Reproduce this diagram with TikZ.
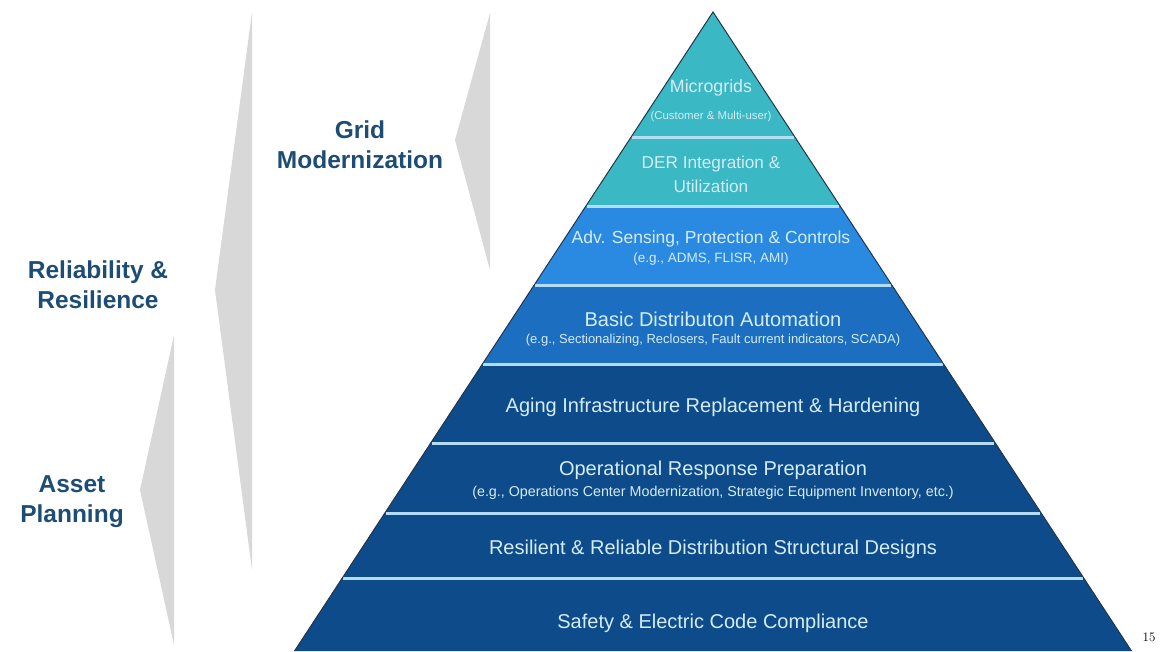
\documentclass[tikz,border=0pt]{standalone}
\usepackage{fontspec}
\newfontfamily\arial{Liberation Sans}
\usetikzlibrary{positioning}

\definecolor{tealtier}{HTML}{3AB8C4}
\definecolor{brighttier}{HTML}{2A8AE2}
\definecolor{midtier}{HTML}{1C6FC0}
\definecolor{navytier}{HTML}{0E4B8B}
\definecolor{sepline}{HTML}{B4DCF2}
\definecolor{edgeline}{HTML}{22354A}
\definecolor{tiertext}{HTML}{D4ECF6}
\definecolor{labelblue}{HTML}{1D4C75}
\definecolor{wedgegray}{HTML}{D8D8D8}

\begin{document}
\begin{tikzpicture}
[x=1pt,y=-1pt,on grid,%
  tier/.style={text=tiertext,align=center,font=\arial\fontsize{#1}{24}\selectfont},
  tier/.default=20,
  note/.style={text=tiertext,font=\arial\fontsize{#1}{14}\selectfont},
  note/.default=13,
  side/.style={text=labelblue,align=center,font=\arial\bfseries\fontsize{24.5}{30}\selectfont},
  wedge/.style={fill=wedgegray},
  sep/.style={draw=sepline,line width=3pt}]
\useasboundingbox (0,0) rectangle (1164,651);
%% pyramid bands
\foreach \ya/\yb/\col in {12/206/tealtier,206/285/brighttier,285/364/midtier,364/651/navytier}
  \fill[\col] ({713-0.655*(\ya-12)},\ya) -- ({713+0.655*(\ya-12)},\ya)
    -- ({713+0.655*(\yb-12)},\yb) -- ({713-0.655*(\yb-12)},\yb) -- cycle;
%% separators
\foreach \ys in {137,206,285,364,443,513,578}
  \draw[sep] ({713-0.655*(\ys-12)+1},\ys) -- ({713+0.655*(\ys-12)-1},\ys);
\draw[edgeline,line width=1pt] (294.5,651) -- (713,12) -- (1131.5,651);
%% tiers
\node[tier=17.8] (micro) at (711,88) {Microgrids};
\node[note=11.4] (microsub) [below=29pt of micro] {(Customer \& Multi-user)};
\node[tier=17.2] (der) at (711,174) {DER Integration \&\\Utilization};
\node[tier=17.5] (adv) at (711,239) {Adv. Sensing, Protection \& Controls};
\node[note=13.5] (advsub) [below=20pt of adv] {(e.g., ADMS, FLISR, AMI)};
\node[tier] (basic) at (713,319) {Basic Distributon Automation};
\node[note] (basicsub) [below=21pt of basic] {(e.g., Sectionalizing, Reclosers, Fault current indicators, SCADA)};
\node[tier] (aging) at (713,407) {Aging Infrastructure Replacement \& Hardening};
\node[tier] (ops) at (713,470) {Operational Response Preparation};
\node[note=14.3] (opssub) [below=23pt of ops] {(e.g., Operations Center Modernization, Strategic Equipment Inventory, etc.)};
\node[tier] (resil) at (713,549) {Resilient \& Reliable Distribution Structural Designs};
\node[tier] (safety) at (713,623) {Safety \& Electric Code Compliance};
%% brackets and labels
\fill[wedge] (490,13) -- (455,140) -- (490,270) -- cycle;
\fill[wedge] (252,12) -- (215,290) -- (252,570) -- cycle;
\fill[wedge] (174,335) -- (140,490) -- (174,645) -- cycle;
\node[side] (grid) at (360,145) {Grid\\Modernization};
\node[side] (reliab) at (98,285) {Reliability \&\\Resilience};
\node[side] (asset) at (72,502) {Asset\\Planning};
\node[font=\fontsize{13}{15}\selectfont] (page) at (1149,637) {15};
\end{tikzpicture}
\end{document}
